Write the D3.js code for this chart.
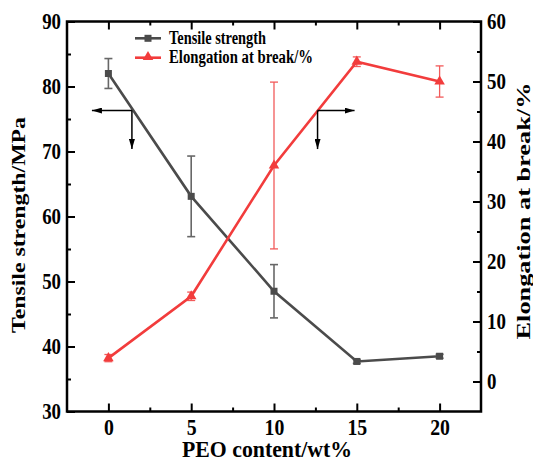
<!DOCTYPE html>
<html lang="en">
    <head>
        <meta charset="utf-8">
        <title>PEO content</title>
        <script src="https://d3js.org/d3.v7.min.js"></script>
        <style>
            body { margin: 0; background: #fff; }
            text { font-family: "Liberation Serif", "Times New Roman", serif; font-weight: bold; fill: #000; }
        </style>
    </head>
    <body>
        <script type="text/javascript">
            const GRAY = '#4b4b4b';
            const GRAYBAR = '#676767';
            const RED = '#f23c3c';
            const REDBAR = '#f25a5a';

            // data
            var peo = [0, 5, 10, 15, 20];
            var tensile = [82.0, 63.1, 48.5, 37.7, 38.5];
            var tensileErr = [2.3, 6.2, 4.1, 0.3, 0.3];
            var elong = [3.9, 14.2, 36.0, 53.3, 50.0];
            var elongErr = [0.6, 0.7, 13.9, 0.8, 2.6];

            var xTicks = [0, 5, 10, 15, 20];
            var xMinor = [2.5, 7.5, 12.5, 17.5];
            var yLeftTicks = [30, 40, 50, 60, 70, 80, 90];
            var yLeftMinor = [35, 45, 55, 65, 75, 85];
            var yRightTicks = [0, 10, 20, 30, 40, 50, 60];
            var yRightMinor = [5, 15, 25, 35, 45, 55];

            // annotation arrows: junction in (x, left-axis) units
            var arrows = [
                {x: 1.42, y: 76.3, side: 'left'},
                {x: 12.63, y: 76.3, side: 'right'}
            ];

            var width = 533,
                height = 465,
                pLeft = 67, pRight = 481, pTop = 21.5, pBottom = 411.5;

            var svg = d3.select("body").append("svg")
                .attr("width", width)
                .attr("height", height);

            var x = d3.scaleLinear().domain([-2.5, 22.5]).range([pLeft, pRight]);
            var yL = d3.scaleLinear().domain([30, 90]).range([pBottom, pTop]);
            var yR = d3.scaleLinear().domain([-5, 60]).range([pBottom, pTop]);

            // squeeze text horizontally (reference looks vertically stretched)
            function squeeze(sel, sx) {
                sel.each(function() {
                    var len = this.getComputedTextLength();
                    d3.select(this).attr("textLength", len * sx).attr("lengthAdjust", "spacingAndGlyphs");
                });
            }
            function fit(sel, len) {
                sel.attr("textLength", len).attr("lengthAdjust", "spacingAndGlyphs");
            }

            function styleAxis(g) {
                g.select(".domain").remove();
                g.selectAll(".tick line").attr("stroke", "#000").attr("stroke-width", 2);
                g.selectAll(".tick text").attr("font-size", 23).attr("fill", "#000")
                    .attr("font-family", "Liberation Serif").attr("font-weight", "bold");
            }

            // major + minor ticks, inward
            var gx = svg.append("g").attr("transform", "translate(0," + pBottom + ")")
                .call(d3.axisBottom(x).tickValues(xTicks).tickSizeInner(-8).tickSizeOuter(0).tickPadding(7));
            styleAxis(gx);
            svg.append("g").attr("transform", "translate(0," + pBottom + ")")
                .call(d3.axisBottom(x).tickValues(xMinor).tickSizeInner(-4).tickSizeOuter(0).tickFormat(""))
                .call(styleAxis);
            svg.append("g").attr("transform", "translate(0," + pTop + ")")
                .call(d3.axisTop(x).tickValues(xTicks).tickSizeInner(-8).tickSizeOuter(0).tickFormat(""))
                .call(styleAxis);
            svg.append("g").attr("transform", "translate(0," + pTop + ")")
                .call(d3.axisTop(x).tickValues(xMinor).tickSizeInner(-4).tickSizeOuter(0).tickFormat(""))
                .call(styleAxis);

            var gyl = svg.append("g").attr("transform", "translate(" + pLeft + ",0)")
                .call(d3.axisLeft(yL).tickValues(yLeftTicks).tickSizeInner(-8).tickSizeOuter(0).tickPadding(6));
            styleAxis(gyl);
            svg.append("g").attr("transform", "translate(" + pLeft + ",0)")
                .call(d3.axisLeft(yL).tickValues(yLeftMinor).tickSizeInner(-4).tickSizeOuter(0).tickFormat(""))
                .call(styleAxis);

            var gyr = svg.append("g").attr("transform", "translate(" + pRight + ",0)")
                .call(d3.axisRight(yR).tickValues(yRightTicks).tickSizeInner(-8).tickSizeOuter(0).tickPadding(6));
            styleAxis(gyr);
            svg.append("g").attr("transform", "translate(" + pRight + ",0)")
                .call(d3.axisRight(yR).tickValues(yRightMinor).tickSizeInner(-4).tickSizeOuter(0).tickFormat(""))
                .call(styleAxis);

            squeeze(gx.selectAll(".tick text"), 0.86);
            squeeze(gyl.selectAll(".tick text"), 0.82);
            squeeze(gyr.selectAll(".tick text"), 0.82);

            // frame
            svg.append("rect")
                .attr("x", pLeft).attr("y", pTop)
                .attr("width", pRight - pLeft).attr("height", pBottom - pTop)
                .attr("fill", "none").attr("stroke", "#000").attr("stroke-width", 2.5);

            // axis titles
            svg.append("text").attr("x", 267).attr("y", 457)
                .attr("text-anchor", "middle").attr("font-size", 24)
                .text("PEO content/wt%").call(fit, 170);
            svg.append("text").attr("transform", "translate(25,225) rotate(-90)")
                .attr("text-anchor", "middle").attr("font-size", 18)
                .text("Tensile strength/MPa").call(fit, 216);
            svg.append("text").attr("transform", "translate(517,211) rotate(-90)")
                .attr("text-anchor", "middle").attr("font-size", 18.5)
                .attr("dy", "0.7em")
                .text("Elongation at break/%").call(fit, 257);

            var tri = d3.symbol().type(d3.symbolTriangle).size(48);

            function errorBars(vals, errs, y, color, w) {
                var g = svg.append("g").attr("stroke", color).attr("stroke-width", w).attr("fill", "none");
                peo.forEach(function(p, i) {
                    var cx = x(p), y1 = y(vals[i] + errs[i]), y2 = y(vals[i] - errs[i]);
                    g.append("line").attr("x1", cx).attr("x2", cx).attr("y1", y1).attr("y2", y2);
                    g.append("line").attr("x1", cx - 4).attr("x2", cx + 4).attr("y1", y1).attr("y2", y1);
                    g.append("line").attr("x1", cx - 4).attr("x2", cx + 4).attr("y1", y2).attr("y2", y2);
                });
            }

            // tensile strength
            errorBars(tensile, tensileErr, yL, GRAYBAR, 1.6);
            svg.append("path")
                .datum(peo.map(function(p, i) { return [p, tensile[i]]; }))
                .attr("fill", "none").attr("stroke", GRAY).attr("stroke-width", 2.6)
                .attr("d", d3.line().x(function(d) { return x(d[0]); }).y(function(d) { return yL(d[1]); }));
            svg.append("g").selectAll("rect")
                .data(peo.map(function(p, i) { return [p, tensile[i]]; }))
                .enter().append("rect")
                .attr("x", function(d) { return x(d[0]) - 3.5; })
                .attr("y", function(d) { return yL(d[1]) - 3.5; })
                .attr("width", 7).attr("height", 7)
                .attr("fill", GRAY);

            // elongation
            errorBars(elong, elongErr, yR, REDBAR, 1.3);
            svg.append("path")
                .datum(peo.map(function(p, i) { return [p, elong[i]]; }))
                .attr("fill", "none").attr("stroke", RED).attr("stroke-width", 2.6)
                .attr("d", d3.line().x(function(d) { return x(d[0]); }).y(function(d) { return yR(d[1]); }));
            svg.append("g").selectAll("path")
                .data(peo.map(function(p, i) { return [p, elong[i]]; }))
                .enter().append("path")
                .attr("transform", function(d) { return "translate(" + x(d[0]) + "," + yR(d[1]) + ")"; })
                .attr("d", tri)
                .attr("fill", RED);

            // arrows
            var defs = svg.append("defs");
            defs.append("marker").attr("id", "head")
                .attr("viewBox", "0 0 10 6").attr("refX", 10).attr("refY", 3)
                .attr("markerWidth", 10).attr("markerHeight", 6)
                .attr("markerUnits", "userSpaceOnUse").attr("orient", "auto")
                .append("path").attr("d", "M0,0L10,3L0,6Z").attr("fill", "#000");

            arrows.forEach(function(a) {
                var ax = x(a.x), ay = yL(a.y);
                var hx = a.side === 'left' ? ax - 40 : ax + 37;
                svg.append("line").attr("x1", ax).attr("y1", ay).attr("x2", hx).attr("y2", ay)
                    .attr("stroke", "#000").attr("stroke-width", 1.5).attr("marker-end", "url(#head)");
                svg.append("line").attr("x1", ax).attr("y1", ay).attr("x2", ax).attr("y2", ay + 38.5)
                    .attr("stroke", "#000").attr("stroke-width", 1.5).attr("marker-end", "url(#head)");
            });

            // legend
            var legend = svg.append("g");
            legend.append("line").attr("x1", 135).attr("x2", 161).attr("y1", 38.3).attr("y2", 38.3)
                .attr("stroke", GRAY).attr("stroke-width", 2.6);
            legend.append("rect").attr("x", 144.5).attr("y", 34.8).attr("width", 7).attr("height", 7).attr("fill", GRAY);
            legend.append("text").attr("x", 169).attr("y", 44).attr("font-size", 18)
                .text("Tensile strength").call(fit, 97);
            legend.append("line").attr("x1", 135).attr("x2", 161).attr("y1", 57.7).attr("y2", 57.7)
                .attr("stroke", RED).attr("stroke-width", 2.6);
            legend.append("path").attr("transform", "translate(148,57)").attr("d", tri).attr("fill", RED);
            legend.append("text").attr("x", 169).attr("y", 63).attr("font-size", 18)
                .text("Elongation at break/%").call(fit, 144);
        </script>
    </body>
</html>
